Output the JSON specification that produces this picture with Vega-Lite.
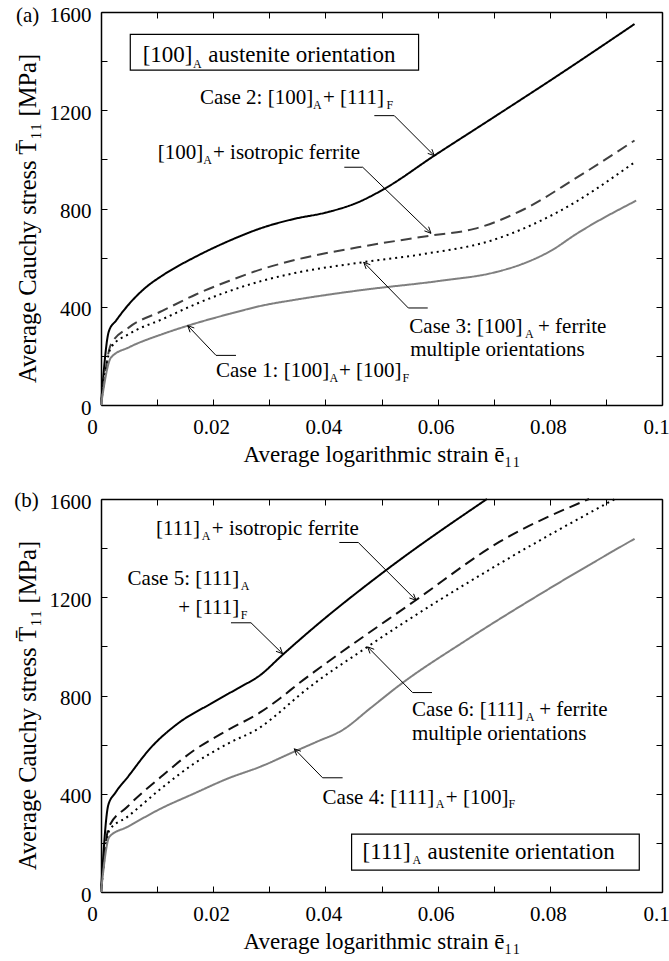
{
  "$schema": "https://vega.github.io/schema/vega-lite/v6.json",
  "padding": {"left": 14, "top": 4, "right": 0, "bottom": 2},
  "background": "#ffffff",
  "spacing": 94,
  "bounds": "flush",
  "resolve": {"scale": {"color": "independent", "strokeDash": "independent"}},
  "config": {
    "font": "Liberation Serif",
    "view": {"stroke": null},
    "axis": {
      "domainColor": "#000000", "domainWidth": 1.5, "tickColor": "#000000", "tickWidth": 1, "tickSize": -6,
      "grid": false, "labelFont": "Liberation Serif", "labelFontSize": 21, "labelColor": "#000000",
      "titleFont": "Liberation Serif", "titleFontSize": 23, "titleFontWeight": "normal", "titleColor": "#000000",
      "labelFlush": false, "labelOverlap": false
    }
  },
  "datasets": {
    "tc": [
      {"c":"c2","s":0,"t":0},{"c":"c2","s":0.0014,"t":300},{"c":"c2","s":0.0027,"t":344},{"c":"c2","s":0.005,"t":411},{"c":"c2","s":0.008,"t":479},{"c":"c2","s":0.011,"t":528},{"c":"c2","s":0.0169,"t":604},{"c":"c2","s":0.0229,"t":669},{"c":"c2","s":0.0288,"t":722},{"c":"c2","s":0.0345,"t":758},{"c":"c2","s":0.0398,"t":782},{"c":"c2","s":0.0458,"t":825},{"c":"c2","s":0.0505,"t":880},{"c":"c2","s":0.0594,"t":1015},{"c":"c2","s":0.0695,"t":1164},{"c":"c2","s":0.0814,"t":1341},{"c":"c2","s":0.0951,"t":1551},
      {"c":"iso","s":0,"t":0},{"c":"iso","s":0.0018,"t":248},{"c":"iso","s":0.005,"t":316},{"c":"iso","s":0.011,"t":384},{"c":"iso","s":0.0169,"t":450},{"c":"iso","s":0.0229,"t":506},{"c":"iso","s":0.0288,"t":554},{"c":"iso","s":0.0345,"t":590},{"c":"iso","s":0.0458,"t":642},{"c":"iso","s":0.0588,"t":690},{"c":"iso","s":0.0665,"t":717},{"c":"iso","s":0.0755,"t":798},{"c":"iso","s":0.0844,"t":920},{"c":"iso","s":0.0951,"t":1077},
      {"c":"c3","s":0,"t":0},{"c":"c3","s":0.0018,"t":235},{"c":"c3","s":0.005,"t":289},{"c":"c3","s":0.011,"t":350},{"c":"c3","s":0.0169,"t":411},{"c":"c3","s":0.0229,"t":464},{"c":"c3","s":0.0288,"t":506},{"c":"c3","s":0.0345,"t":537},{"c":"c3","s":0.0466,"t":581},{"c":"c3","s":0.0576,"t":615},{"c":"c3","s":0.0695,"t":669},{"c":"c3","s":0.0814,"t":785},{"c":"c3","s":0.0951,"t":988},
      {"c":"c1","s":0,"t":0},{"c":"c1","s":0.0018,"t":194},{"c":"c1","s":0.005,"t":235},{"c":"c1","s":0.011,"t":289},{"c":"c1","s":0.0155,"t":323},{"c":"c1","s":0.0229,"t":371},{"c":"c1","s":0.0288,"t":405},{"c":"c1","s":0.0345,"t":428},{"c":"c1","s":0.0458,"t":466},{"c":"c1","s":0.0606,"t":506},{"c":"c1","s":0.0698,"t":538},{"c":"c1","s":0.0752,"t":575},{"c":"c1","s":0.0805,"t":632},{"c":"c1","s":0.0845,"t":693},{"c":"c1","s":0.0954,"t":832}
    ],
    "bc": [
      {"c":"c5","s":0,"t":0},{"c":"c5","s":0.0013,"t":354},{"c":"c5","s":0.0025,"t":402},{"c":"c5","s":0.0047,"t":466},{"c":"c5","s":0.0089,"t":588},{"c":"c5","s":0.0137,"t":686},{"c":"c5","s":0.0196,"t":767},{"c":"c5","s":0.0243,"t":828},{"c":"c5","s":0.0285,"t":885},{"c":"c5","s":0.0321,"t":960},{"c":"c5","s":0.0377,"t":1072},{"c":"c5","s":0.0508,"t":1310},{"c":"c5","s":0.0688,"t":1600},
      {"c":"iso","s":0,"t":0},{"c":"iso","s":0.0014,"t":265},{"c":"iso","s":0.0047,"t":347},{"c":"iso","s":0.0107,"t":469},{"c":"iso","s":0.0166,"t":577},{"c":"iso","s":0.0226,"t":659},{"c":"iso","s":0.0285,"t":733},{"c":"iso","s":0.032,"t":790},{"c":"iso","s":0.0353,"t":850},{"c":"iso","s":0.038,"t":896},{"c":"iso","s":0.0561,"t":1188},{"c":"iso","s":0.071,"t":1425},{"c":"iso","s":0.087,"t":1600},
      {"c":"c6","s":0,"t":0},{"c":"c6","s":0.0015,"t":252},{"c":"c6","s":0.0047,"t":306},{"c":"c6","s":0.0107,"t":421},{"c":"c6","s":0.0166,"t":523},{"c":"c6","s":0.0226,"t":604},{"c":"c6","s":0.0285,"t":672},{"c":"c6","s":0.032,"t":735},{"c":"c6","s":0.0353,"t":800},{"c":"c6","s":0.0475,"t":998},{"c":"c6","s":0.071,"t":1336},{"c":"c6","s":0.0916,"t":1600},
      {"c":"c4","s":0,"t":0},{"c":"c4","s":0.0015,"t":225},{"c":"c4","s":0.0047,"t":265},{"c":"c4","s":0.0107,"t":340},{"c":"c4","s":0.0166,"t":401},{"c":"c4","s":0.0226,"t":462},{"c":"c4","s":0.0285,"t":511},{"c":"c4","s":0.0345,"t":572},{"c":"c4","s":0.0385,"t":612},{"c":"c4","s":0.0431,"t":660},{"c":"c4","s":0.048,"t":748},{"c":"c4","s":0.0532,"t":842},{"c":"c4","s":0.0651,"t":1025},{"c":"c4","s":0.0799,"t":1235},{"c":"c4","s":0.0951,"t":1438}
    ],
    "ta": [
      {"g":"a2","o":1,"s":0.04872,"t":1178},{"g":"a2","o":2,"s":0.05228,"t":1178},{"g":"a2","o":3,"s":0.05941,"t":1015},
      {"g":"a2h","o":1,"s":0.05898,"t":1041.5},{"g":"a2h","o":2,"s":0.05941,"t":1015},{"g":"a2h","o":3,"s":0.05824,"t":1024.4},
      {"g":"ai","o":1,"s":0.04337,"t":968},{"g":"ai","o":2,"s":0.04665,"t":968},{"g":"ai","o":3,"s":0.05882,"t":699},
      {"g":"aih","o":1,"s":0.0584,"t":726},{"g":"aih","o":2,"s":0.05882,"t":699},{"g":"aih","o":3,"s":0.05765,"t":709},
      {"g":"a3","o":1,"s":0.05824,"t":395},{"g":"a3","o":2,"s":0.05478,"t":395},{"g":"a3","o":3,"s":0.04683,"t":581},
      {"g":"a3h","o":1,"s":0.04726,"t":554},{"g":"a3h","o":2,"s":0.04683,"t":581},{"g":"a3h","o":3,"s":0.04801,"t":571},
      {"g":"a1","o":1,"s":0.02406,"t":202},{"g":"a1","o":2,"s":0.0205,"t":202},{"g":"a1","o":3,"s":0.01546,"t":323},
      {"g":"a1h","o":1,"s":0.01588,"t":296},{"g":"a1h","o":2,"s":0.01546,"t":323},{"g":"a1h","o":3,"s":0.01663,"t":313.5}
    ],
    "ba": [
      {"g":"a5","o":1,"s":0.02317,"t":1096},{"g":"a5","o":2,"s":0.02674,"t":1096},{"g":"a5","o":3,"s":0.03237,"t":970},
      {"g":"a5h","o":1,"s":0.03194,"t":997},{"g":"a5h","o":2,"s":0.03237,"t":970},{"g":"a5h","o":3,"s":0.03119,"t":980},
      {"g":"ai","o":1,"s":0.04248,"t":1423},{"g":"ai","o":2,"s":0.04586,"t":1423},{"g":"ai","o":3,"s":0.05615,"t":1188},
      {"g":"aih","o":1,"s":0.05572,"t":1214},{"g":"aih","o":2,"s":0.05615,"t":1188},{"g":"aih","o":3,"s":0.05497,"t":1197},
      {"g":"a6","o":1,"s":0.059,"t":812},{"g":"a6","o":2,"s":0.05554,"t":812},{"g":"a6","o":3,"s":0.04752,"t":998},
      {"g":"a6h","o":1,"s":0.04795,"t":971},{"g":"a6h","o":2,"s":0.04752,"t":998},{"g":"a6h","o":3,"s":0.0487,"t":988},
      {"g":"a4","o":1,"s":0.04307,"t":465},{"g":"a4","o":2,"s":0.0395,"t":465},{"g":"a4","o":3,"s":0.03446,"t":583},
      {"g":"a4h","o":1,"s":0.03488,"t":556},{"g":"a4h","o":2,"s":0.03446,"t":583},{"g":"a4h","o":3,"s":0.03563,"t":573}
    ],
    "tt": [
      {"k":"b","s":0.00743,"t":1395,"txt":"[100]"},
      {"k":"s","s":0.0164,"t":1373,"txt":"A"},
      {"k":"b","s":0.01913,"t":1395,"txt":"austenite orientation"},
      {"k":"m","s":0.01765,"t":1226,"txt":"Case 2: [100]"},
      {"k":"s","s":0.03779,"t":1206,"txt":"A"},
      {"k":"m","s":0.03957,"t":1226,"txt":"+ [111]"},
      {"k":"s","s":0.05089,"t":1206,"txt":"F"},
      {"k":"m","s":0.01011,"t":1002,"txt":"[100]"},
      {"k":"s","s":0.01822,"t":982,"txt":"A"},
      {"k":"m","s":0.01996,"t":1002,"txt":"+ isotropic ferrite"},
      {"k":"m","s":0.05496,"t":292,"txt":"Case 3: [100]"},
      {"k":"s","s":0.0756,"t":272,"txt":"A"},
      {"k":"m","s":0.0779,"t":292,"txt":"+ ferrite"},
      {"k":"m","s":0.05513,"t":198,"txt":"multiple orientations"},
      {"k":"m","s":0.0205,"t":113,"txt":"Case 1: [100]"},
      {"k":"s","s":0.04073,"t":92,"txt":"A"},
      {"k":"m","s":0.04242,"t":113,"txt":"+ [100]"},
      {"k":"s","s":0.05374,"t":92,"txt":"F"},
      {"k":"m","s":-0.01515,"t":1558,"txt":"(a)"}
    ],
    "bt": [
      {"k":"m","s":0.0098,"t":1455,"txt":"[111]"},
      {"k":"s","s":0.01797,"t":1435,"txt":"A"},
      {"k":"m","s":0.01975,"t":1455,"txt":"+ isotropic ferrite"},
      {"k":"m","s":0.00474,"t":1248,"txt":"Case 5: [111]"},
      {"k":"s","s":0.0249,"t":1228,"txt":"A"},
      {"k":"m","s":0.01378,"t":1133,"txt":"+ [111]"},
      {"k":"s","s":0.0249,"t":1113,"txt":"F"},
      {"k":"m","s":0.05544,"t":717,"txt":"Case 6: [111]"},
      {"k":"s","s":0.0757,"t":697,"txt":"A"},
      {"k":"m","s":0.0781,"t":717,"txt":"+ ferrite"},
      {"k":"m","s":0.05544,"t":618,"txt":"multiple orientations"},
      {"k":"m","s":0.0395,"t":360,"txt":"Case 4: [111]"},
      {"k":"s","s":0.05967,"t":340,"txt":"A"},
      {"k":"m","s":0.06146,"t":360,"txt":"+ [100]"},
      {"k":"s","s":0.07262,"t":340,"txt":"F"},
      {"k":"b","s":0.04663,"t":136,"txt":"[111]"},
      {"k":"s","s":0.05551,"t":116,"txt":"A"},
      {"k":"b","s":0.05822,"t":136,"txt":"austenite orientation"},
      {"k":"m","s":-0.01545,"t":1567,"txt":"(b)"}
    ],
    "tb": [{"s":0.00522,"s2":0.05661,"t":1509,"t2":1363}],
    "bb": [{"s":0.04467,"s2":0.09595,"t":235.6,"t2":89.1}]
  },
  "vconcat": [
    {
      "width": 561, "height": 393,
      "resolve": {"axis": {"x": "independent", "y": "independent"}},
      "layer": [
        {"data": {"name": "tc"}, "mark": {"type": "line", "strokeWidth": 2, "interpolate": "monotone"},
         "encoding": {
           "x": {"field": "s", "type": "quantitative", "scale": {"domain": [0, 0.1], "nice": false, "zero": false},
                 "axis": {"values": [0,0.01,0.02,0.03,0.04,0.05,0.06,0.07,0.08,0.09,0.1], "labelExpr": "datum.value == 0 ? '0' : (round(datum.value * 100) % 2 == 0 ? format(datum.value, '~g') : '')", "labelPadding": 17, "title": "Average logarithmic strain ē₁₁", "titlePadding": 6,
                          "labelOffset": {"expr": "datum.value == 0 ? -9 : (datum.value > 0.099 ? -6 : -2)"}}},
           "y": {"field": "t", "type": "quantitative", "scale": {"domain": [0, 1600], "nice": false},
                 "axis": {"values": [0,200,400,600,800,1000,1200,1400,1600], "labelExpr": "datum.value % 400 == 0 ? format(datum.value, 'd') : ''", "labelPadding": 16, "labelOffset": 3, "title": "Average Cauchy stress T̄₁₁ [MPa]", "titlePadding": 9, "titleFontSize": 24.5, "titleY": 206}},
           "color": {"field": "c", "type": "nominal", "scale": {"domain": ["c2","iso","c3","c1"], "range": ["#000000","#404040","#000000","#7f7f7f"]}, "legend": null},
           "strokeDash": {"field": "c", "type": "nominal", "scale": {"domain": ["c2","iso","c3","c1"], "range": [[1,0],[11,6],[2,4],[1,0]]}, "legend": null}
         }},
        {"data": {"name": "tc"}, "mark": {"type": "line", "opacity": 0},
         "encoding": {
           "x": {"field": "s", "type": "quantitative", "scale": {"domain": [0, 0.1], "nice": false, "zero": false},
                 "axis": {"orient": "top", "values": [0,0.01,0.02,0.03,0.04,0.05,0.06,0.07,0.08,0.09,0.1], "labels": false, "title": null}},
           "y": {"field": "t", "type": "quantitative", "scale": {"domain": [0, 1600], "nice": false},
                 "axis": {"orient": "right", "values": [0,200,400,600,800,1000,1200,1400,1600], "labels": false, "title": null}}
         }},
        {"data": {"name": "tb"}, "mark": {"type": "rect", "fill": "#ffffff", "stroke": "#000000", "strokeWidth": 1.2},
         "encoding": {
           "x": {"field": "s", "type": "quantitative", "scale": {"domain": [0, 0.1], "nice": false, "zero": false}, "axis": null},
           "x2": {"field": "s2"},
           "y": {"field": "t", "type": "quantitative", "scale": {"domain": [0, 1600], "nice": false}, "axis": null},
           "y2": {"field": "t2"}
         }},
        {"data": {"name": "ta"}, "mark": {"type": "line", "stroke": "#000000", "strokeWidth": 1},
         "encoding": {
           "x": {"field": "s", "type": "quantitative", "scale": {"domain": [0, 0.1], "nice": false, "zero": false}, "axis": null},
           "y": {"field": "t", "type": "quantitative", "scale": {"domain": [0, 1600], "nice": false}, "axis": null},
           "detail": {"field": "g"},
           "order": {"field": "o", "type": "quantitative"}
         }},
        {"data": {"name": "tt"}, "transform": [{"filter": "datum.k == 'm'"}],
         "mark": {"type": "text", "align": "left", "baseline": "alphabetic", "fontSize": 21, "font": "Liberation Serif", "color": "#000000"},
         "encoding": {
           "x": {"field": "s", "type": "quantitative", "scale": {"domain": [0, 0.1], "nice": false, "zero": false}, "axis": null},
           "y": {"field": "t", "type": "quantitative", "scale": {"domain": [0, 1600], "nice": false}, "axis": null},
           "text": {"field": "txt"}
         }},
        {"data": {"name": "tt"}, "transform": [{"filter": "datum.k == 'b'"}],
         "mark": {"type": "text", "align": "left", "baseline": "alphabetic", "fontSize": 23, "font": "Liberation Serif", "color": "#000000"},
         "encoding": {
           "x": {"field": "s", "type": "quantitative", "scale": {"domain": [0, 0.1], "nice": false, "zero": false}, "axis": null},
           "y": {"field": "t", "type": "quantitative", "scale": {"domain": [0, 1600], "nice": false}, "axis": null},
           "text": {"field": "txt"}
         }},
        {"data": {"name": "tt"}, "transform": [{"filter": "datum.k == 's'"}],
         "mark": {"type": "text", "align": "left", "baseline": "alphabetic", "fontSize": 12, "font": "Liberation Serif", "color": "#000000"},
         "encoding": {
           "x": {"field": "s", "type": "quantitative", "scale": {"domain": [0, 0.1], "nice": false, "zero": false}, "axis": null},
           "y": {"field": "t", "type": "quantitative", "scale": {"domain": [0, 1600], "nice": false}, "axis": null},
           "text": {"field": "txt"}
         }}
      ]
    },
    {
      "width": 561, "height": 393,
      "resolve": {"axis": {"x": "independent", "y": "independent"}},
      "layer": [
        {"data": {"name": "bc"}, "mark": {"type": "line", "strokeWidth": 2, "interpolate": "monotone"},
         "encoding": {
           "x": {"field": "s", "type": "quantitative", "scale": {"domain": [0, 0.1], "nice": false, "zero": false},
                 "axis": {"values": [0,0.01,0.02,0.03,0.04,0.05,0.06,0.07,0.08,0.09,0.1], "labelExpr": "datum.value == 0 ? '0' : (round(datum.value * 100) % 2 == 0 ? format(datum.value, '~g') : '')", "labelPadding": 17, "title": "Average logarithmic strain ē₁₁", "titlePadding": 6,
                          "labelOffset": {"expr": "datum.value == 0 ? -9 : (datum.value > 0.099 ? -6 : -2)"}}},
           "y": {"field": "t", "type": "quantitative", "scale": {"domain": [0, 1600], "nice": false},
                 "axis": {"values": [0,200,400,600,800,1000,1200,1400,1600], "labelExpr": "datum.value % 400 == 0 ? format(datum.value, 'd') : ''", "labelPadding": 16, "labelOffset": 3, "title": "Average Cauchy stress T̄₁₁ [MPa]", "titlePadding": 9, "titleFontSize": 24.5, "titleY": 206}},
           "color": {"field": "c", "type": "nominal", "scale": {"domain": ["c5","iso","c6","c4"], "range": ["#000000","#111111","#000000","#7f7f7f"]}, "legend": null},
           "strokeDash": {"field": "c", "type": "nominal", "scale": {"domain": ["c5","iso","c6","c4"], "range": [[1,0],[11,6],[2,4],[1,0]]}, "legend": null}
         }},
        {"data": {"name": "bc"}, "mark": {"type": "line", "opacity": 0},
         "encoding": {
           "x": {"field": "s", "type": "quantitative", "scale": {"domain": [0, 0.1], "nice": false, "zero": false},
                 "axis": {"orient": "top", "values": [0,0.01,0.02,0.03,0.04,0.05,0.06,0.07,0.08,0.09,0.1], "labels": false, "title": null}},
           "y": {"field": "t", "type": "quantitative", "scale": {"domain": [0, 1600], "nice": false},
                 "axis": {"orient": "right", "values": [0,200,400,600,800,1000,1200,1400,1600], "labels": false, "title": null}}
         }},
        {"data": {"name": "bb"}, "mark": {"type": "rect", "fill": "#ffffff", "stroke": "#000000", "strokeWidth": 1.2},
         "encoding": {
           "x": {"field": "s", "type": "quantitative", "scale": {"domain": [0, 0.1], "nice": false, "zero": false}, "axis": null},
           "x2": {"field": "s2"},
           "y": {"field": "t", "type": "quantitative", "scale": {"domain": [0, 1600], "nice": false}, "axis": null},
           "y2": {"field": "t2"}
         }},
        {"data": {"name": "ba"}, "mark": {"type": "line", "stroke": "#000000", "strokeWidth": 1},
         "encoding": {
           "x": {"field": "s", "type": "quantitative", "scale": {"domain": [0, 0.1], "nice": false, "zero": false}, "axis": null},
           "y": {"field": "t", "type": "quantitative", "scale": {"domain": [0, 1600], "nice": false}, "axis": null},
           "detail": {"field": "g"},
           "order": {"field": "o", "type": "quantitative"}
         }},
        {"data": {"name": "bt"}, "transform": [{"filter": "datum.k == 'm'"}],
         "mark": {"type": "text", "align": "left", "baseline": "alphabetic", "fontSize": 21, "font": "Liberation Serif", "color": "#000000"},
         "encoding": {
           "x": {"field": "s", "type": "quantitative", "scale": {"domain": [0, 0.1], "nice": false, "zero": false}, "axis": null},
           "y": {"field": "t", "type": "quantitative", "scale": {"domain": [0, 1600], "nice": false}, "axis": null},
           "text": {"field": "txt"}
         }},
        {"data": {"name": "bt"}, "transform": [{"filter": "datum.k == 'b'"}],
         "mark": {"type": "text", "align": "left", "baseline": "alphabetic", "fontSize": 23, "font": "Liberation Serif", "color": "#000000"},
         "encoding": {
           "x": {"field": "s", "type": "quantitative", "scale": {"domain": [0, 0.1], "nice": false, "zero": false}, "axis": null},
           "y": {"field": "t", "type": "quantitative", "scale": {"domain": [0, 1600], "nice": false}, "axis": null},
           "text": {"field": "txt"}
         }},
        {"data": {"name": "bt"}, "transform": [{"filter": "datum.k == 's'"}],
         "mark": {"type": "text", "align": "left", "baseline": "alphabetic", "fontSize": 12, "font": "Liberation Serif", "color": "#000000"},
         "encoding": {
           "x": {"field": "s", "type": "quantitative", "scale": {"domain": [0, 0.1], "nice": false, "zero": false}, "axis": null},
           "y": {"field": "t", "type": "quantitative", "scale": {"domain": [0, 1600], "nice": false}, "axis": null},
           "text": {"field": "txt"}
         }}
      ]
    }
  ]
}
